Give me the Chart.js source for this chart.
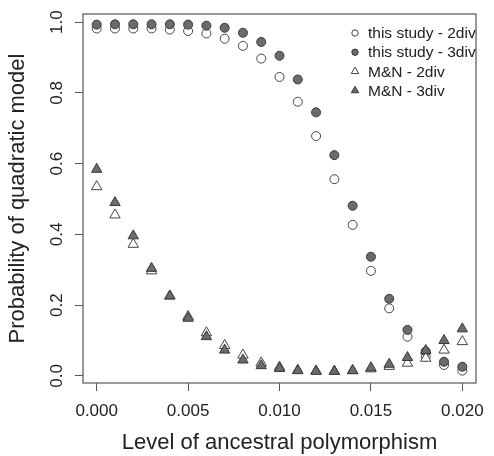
<!DOCTYPE html>
<html>
<head>
<meta charset="utf-8">
<script src="https://cdn.jsdelivr.net/npm/chart.js@4"></script>
<style>
  html, body { margin: 0; padding: 0; background: #fff; }
  #wrap { width: 494px; height: 456px; }
</style>
</head>
<body>
<div id="wrap"><canvas id="myChart" width="494" height="456"></canvas></div>
<script>
// level of ancestral polymorphism
const levels = [0.000, 0.001, 0.002, 0.003, 0.004, 0.005, 0.006, 0.007, 0.008, 0.009, 0.010,
                0.011, 0.012, 0.013, 0.014, 0.015, 0.016, 0.017, 0.018, 0.019, 0.020];

const study2div = [0.982, 0.982, 0.982, 0.982, 0.979, 0.975, 0.968, 0.953, 0.933, 0.897, 0.845,
                   0.775, 0.678, 0.556, 0.427, 0.297, 0.191, 0.111, 0.055, 0.031, 0.015];
const study3div = [0.993, 0.994, 0.994, 0.994, 0.994, 0.993, 0.990, 0.984, 0.970, 0.944, 0.905,
                   0.838, 0.745, 0.624, 0.481, 0.337, 0.218, 0.130, 0.069, 0.040, 0.026];
const mn2div = [0.535, 0.455, 0.372, 0.297, 0.226, 0.168, 0.122, 0.086, 0.059, 0.037, 0.025,
                0.016, 0.014, 0.013, 0.015, 0.020, 0.027, 0.036, 0.050, 0.073, 0.097];
const mn3div = [0.584, 0.490, 0.396, 0.304, 0.226, 0.163, 0.111, 0.073, 0.045, 0.029, 0.021,
                0.015, 0.013, 0.013, 0.015, 0.023, 0.033, 0.052, 0.072, 0.100, 0.133];

const xTicks = [0.000, 0.005, 0.010, 0.015, 0.020];
const yTicks = [0.0, 0.2, 0.4, 0.6, 0.8, 1.0];

const FONT = "'Liberation Sans', Arial, Helvetica, sans-serif";
const INK = '#222';

function pts(ys) {
    return levels.map((x, i) => ({ x: x, y: ys[i] }));
}

// box round the plot, rotated y labels, legend
const extras = {
    id: 'extras',
    afterDraw(chart) {
        const ctx = chart.ctx;
        const a = chart.chartArea;
        ctx.save();
        ctx.strokeStyle = '#555';
        ctx.lineWidth = 1.2;
        ctx.strokeRect(a.left, a.top, a.right - a.left, a.bottom - a.top);

        const ys = chart.scales.y;
        ctx.fillStyle = INK;
        ctx.font = '17px ' + FONT;
        ctx.textAlign = 'center';
        ctx.textBaseline = 'middle';
        yTicks.forEach(v => {
            const py = ys.getPixelForValue(v);
            ctx.save();
            ctx.translate(57, py);
            ctx.rotate(-Math.PI / 2);
            ctx.fillText(v.toFixed(1), 0, 0);
            ctx.restore();
        });

        // legend
        ctx.font = '15.5px ' + FONT;
        ctx.textAlign = 'left';
        chart.data.datasets.forEach((ds, i) => {
            const cy = 33 + i * 19.2;
            const cx = 355;
            ctx.beginPath();
            if (ds.pointStyle === 'triangle') {
                const r = 4.3;
                ctx.moveTo(cx, cy - r);
                ctx.lineTo(cx + r * 0.866, cy + r / 2);
                ctx.lineTo(cx - r * 0.866, cy + r / 2);
                ctx.closePath();
            } else {
                ctx.arc(cx, cy, 3.2, 0, Math.PI * 2);
            }
            ctx.fillStyle = ds.backgroundColor;
            ctx.fill();
            ctx.strokeStyle = ds.borderColor;
            ctx.lineWidth = 1;
            ctx.stroke();
            ctx.fillStyle = INK;
            ctx.fillText(ds.label, 368, cy + 1);
        });
        ctx.restore();
    }
};

const ctx = document.getElementById('myChart').getContext('2d');
const myChart = new Chart(ctx, {
    type: 'scatter',
    data: {
        datasets: [
            {
                label: 'this study - 2div',
                data: pts(study2div),
                pointStyle: 'circle',
                pointRadius: 4.5,
                backgroundColor: '#ffffff',
                borderColor: '#444',
                borderWidth: 1,
                order: 4
            },
            {
                label: 'this study - 3div',
                data: pts(study3div),
                pointStyle: 'circle',
                pointRadius: 4.5,
                backgroundColor: '#6b6b6b',
                borderColor: '#3a3a3a',
                borderWidth: 1,
                order: 3
            },
            {
                label: 'M&N - 2div',
                data: pts(mn2div),
                pointStyle: 'triangle',
                pointRadius: 6,
                backgroundColor: '#ffffff',
                borderColor: '#444',
                borderWidth: 1,
                order: 2
            },
            {
                label: 'M&N - 3div',
                data: pts(mn3div),
                pointStyle: 'triangle',
                pointRadius: 6,
                backgroundColor: '#6b6b6b',
                borderColor: '#3a3a3a',
                borderWidth: 1,
                order: 1
            }
        ]
    },
    options: {
        responsive: false,
        animation: false,
        events: [],
        layout: { padding: { top: 14, right: 12, left: 0, bottom: 0 } },
        plugins: {
            legend: { display: false },
            tooltip: { enabled: false }
        },
        scales: {
            x: {
                type: 'linear',
                min: -0.00075,
                max: 0.02075,
                afterBuildTicks: s => { s.ticks = xTicks.map(v => ({ value: v })); },
                afterFit: s => { s.height = 73; },
                border: { display: false },
                grid: { drawOnChartArea: false, drawTicks: true, tickLength: 8, color: '#555', lineWidth: 1 },
                ticks: {
                    autoSkip: false,
                    maxRotation: 0,
                    padding: 10,
                    color: INK,
                    font: { family: FONT, size: 17 },
                    callback: v => Number(v).toFixed(3)
                },
                title: {
                    display: true,
                    text: 'Level of ancestral polymorphism',
                    color: INK,
                    font: { family: FONT, size: 22 },
                    padding: { top: 0, bottom: 0 }
                }
            },
            y: {
                type: 'linear',
                min: -0.02,
                max: 1.023,
                afterBuildTicks: s => { s.ticks = yTicks.map(v => ({ value: v })); },
                afterFit: s => { s.width = 83; },
                border: { display: false },
                grid: { drawOnChartArea: false, drawTicks: true, tickLength: 8, color: '#555', lineWidth: 1 },
                ticks: { display: false },
                title: {
                    display: true,
                    text: 'Probability of quadratic model',
                    color: INK,
                    font: { family: FONT, size: 22 },
                    padding: { top: 5, bottom: 0 }
                }
            }
        }
    },
    plugins: [extras]
});
</script>
</body>
</html>
